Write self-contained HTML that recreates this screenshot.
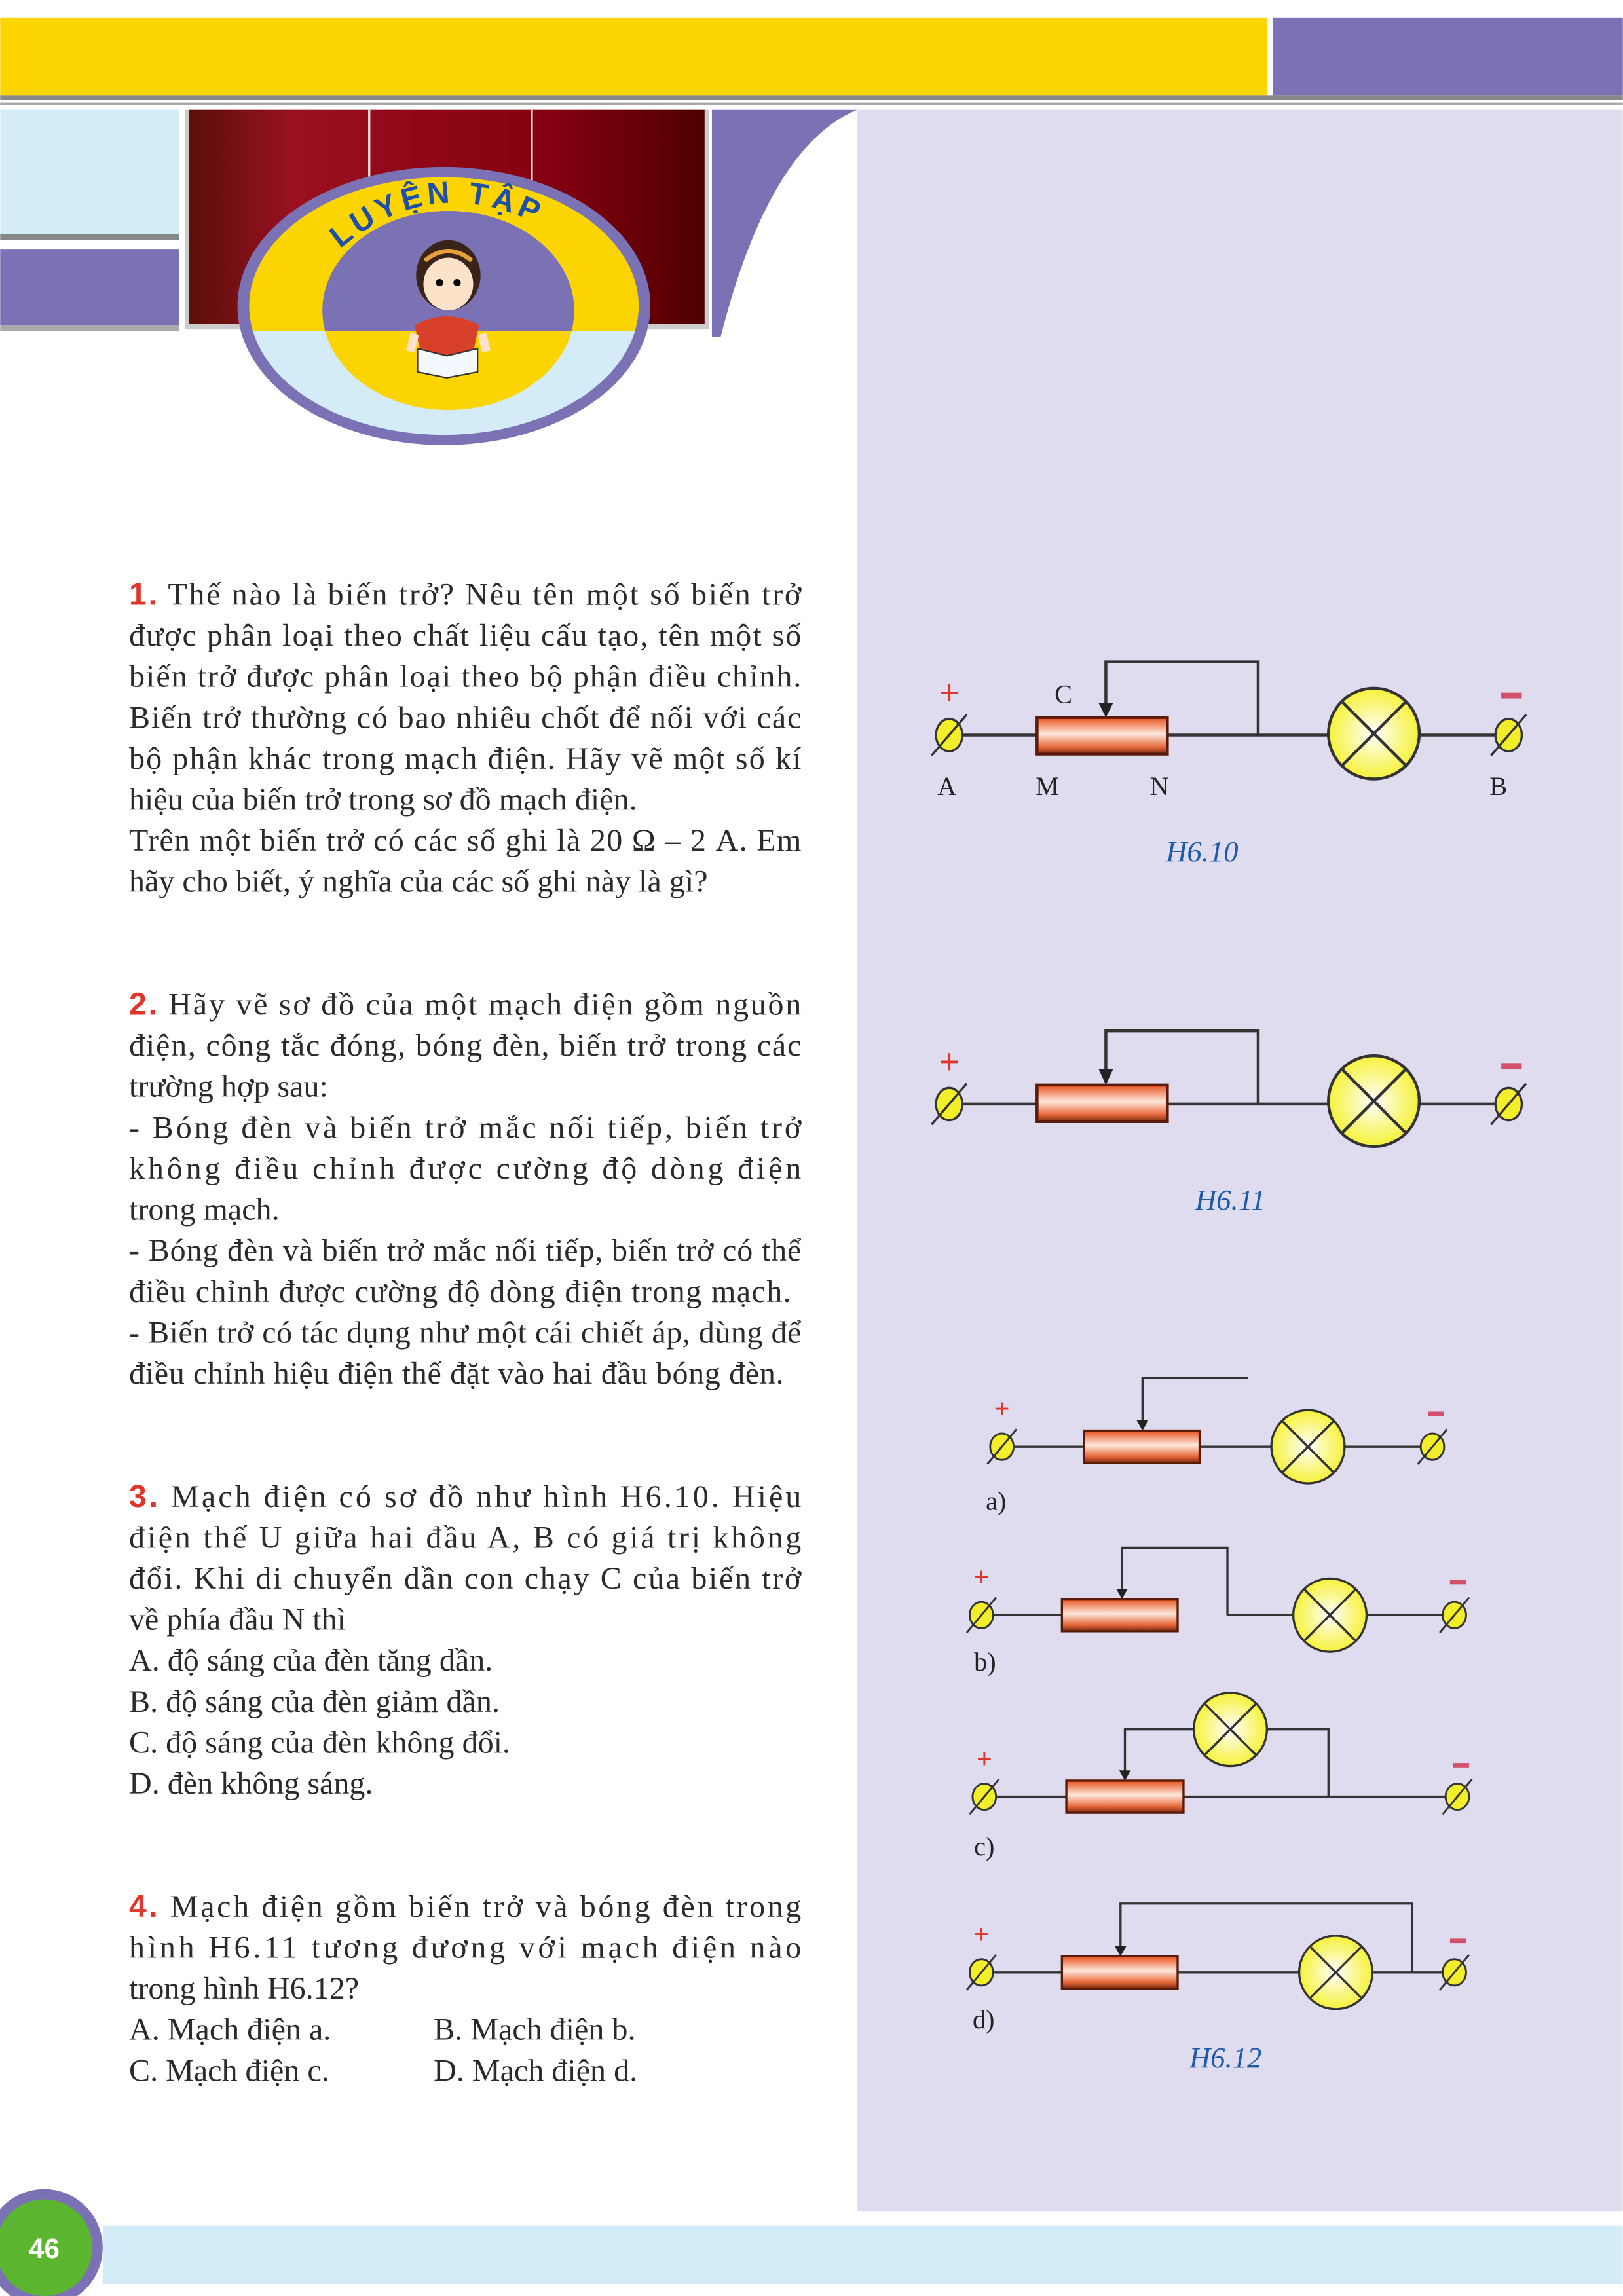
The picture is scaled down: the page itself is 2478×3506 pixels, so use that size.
<!DOCTYPE html>
<html><head><meta charset="utf-8"><style>
html,body{margin:0;padding:0;background:#fff}
svg{display:block}
.t{font-family:"Liberation Serif",serif;font-size:21.5px;fill:#2a2a2a}
.n{font-family:"Liberation Sans",sans-serif;font-weight:bold;fill:#e0352b}
.lb{font-family:"Liberation Serif",serif;font-size:18px;fill:#222}
.cap{font-family:"Liberation Serif",serif;font-style:italic;font-size:20px;fill:#1f5aa6}
.w{stroke:#333;stroke-width:2;fill:none}
</style></head><body>
<svg width="2478" height="3506" viewBox="0 0 1108 1568" xmlns="http://www.w3.org/2000/svg">
<defs>
<linearGradient id="red" x1="0" x2="1"><stop offset="0" stop-color="#5a0f0a"/><stop offset="0.2" stop-color="#9a1020"/><stop offset="0.7" stop-color="#850010"/><stop offset="1" stop-color="#4e0000"/></linearGradient>
<linearGradient id="rh" x1="0" y1="0" x2="0" y2="1"><stop offset="0" stop-color="#e8501a"/><stop offset="0.45" stop-color="#fde8dc"/><stop offset="0.8" stop-color="#e86a3a"/><stop offset="1" stop-color="#7a2a10"/></linearGradient>
<radialGradient id="lamp"><stop offset="0" stop-color="#ffffff"/><stop offset="1" stop-color="#f6f23a"/></radialGradient>
<g id="term"><ellipse cx="0" cy="0" rx="9" ry="11" fill="#f2ee2a" stroke="#333" stroke-width="1.5"/><line x1="-12" y1="14" x2="12" y2="-14" stroke="#333" stroke-width="1.5"/></g>
<g id="termS"><ellipse cx="0" cy="0" rx="8" ry="9" fill="#f2ee2a" stroke="#333" stroke-width="1.3"/><line x1="-10" y1="12" x2="10" y2="-12" stroke="#333" stroke-width="1.3"/></g>
</defs>
<rect x="0" y="12" width="865" height="53" fill="#fcd500"/>
<rect x="869" y="12" width="239" height="53" fill="#7a72b4"/>
<rect x="0" y="65" width="1108" height="3" fill="#888"/>
<rect x="0" y="70" width="1108" height="2" fill="#aaa"/>
<rect x="585" y="75" width="523" height="1435" fill="#dedcee"/>
<rect x="0" y="75" width="122" height="85" fill="#d3ecf8"/>
<rect x="0" y="160" width="122" height="4" fill="#888"/>
<rect x="0" y="170" width="122" height="52" fill="#7a72b4"/>
<rect x="0" y="222" width="122" height="4" fill="#aaa"/>
<rect x="126" y="75" width="358" height="150" fill="#ccc"/>
<rect x="129" y="75" width="352" height="146" fill="url(#red)"/>
<path d="M486,75 L585,75 Q525,100 492,230 L486,230 Z" fill="#7a72b4"/>
<line x1="252" y1="75" x2="252" y2="150" stroke="#ddd" stroke-width="1.5"/>
<line x1="363" y1="75" x2="363" y2="150" stroke="#ddd" stroke-width="1.5"/>
<clipPath id="top"><rect x="0" y="0" width="600" height="226"/></clipPath>
<clipPath id="bot"><rect x="0" y="226" width="600" height="200"/></clipPath>
<ellipse cx="303" cy="209" rx="141" ry="95" fill="#7a72b4"/>
<ellipse cx="303" cy="209" rx="133" ry="88" fill="#fcd500" clip-path="url(#top)"/>
<ellipse cx="303" cy="209" rx="133" ry="88" fill="#d3ecf8" clip-path="url(#bot)"/>
<ellipse cx="306" cy="212" rx="86" ry="68" fill="#7a72b4" clip-path="url(#top)"/>
<ellipse cx="306" cy="212" rx="86" ry="68" fill="#fcd500" clip-path="url(#bot)"/>
<path id="arc" d="M232,170 Q305,108 392,168" fill="none"/>
<text font-family="Liberation Sans,sans-serif" font-weight="bold" font-size="21" fill="#1f4fa8" letter-spacing="3"><textPath href="#arc">LUYỆN TẬP</textPath></text>
<!-- girl -->
<path d="M283,222 Q305,210 327,222 L322,245 L288,245 Z" fill="#d8402a"/>
<ellipse cx="306" cy="188" rx="22" ry="24" fill="#3a2418"/>
<ellipse cx="306" cy="194" rx="17" ry="18" fill="#fbe2c8"/>
<path d="M289,185 Q306,160 323,185 L323,178 Q306,158 289,178 Z" fill="#3a2418"/>
<path d="M290,178 Q306,165 322,178" stroke="#e8a03a" stroke-width="3" fill="none"/>
<circle cx="300" cy="193" r="2.5" fill="#000"/><circle cx="312" cy="193" r="2.5" fill="#000"/>
<path d="M283,228 L280,240 M329,228 L332,240" stroke="#fbe2c8" stroke-width="6"/>
<path d="M285,238 L305,243 L326,238 L326,254 L305,258 L285,254 Z" fill="#f4f8ff" stroke="#333" stroke-width="1"/>
<rect x="70" y="1520" width="1038" height="40" fill="#d3ecf8"/>
<circle cx="30" cy="1535" r="40" fill="#7a72b4"/>
<circle cx="30" cy="1535" r="33" fill="#5cb52e"/>
<text x="30" y="1542" text-anchor="middle" font-family="Liberation Sans,sans-serif" font-weight="bold" font-size="19" fill="#fff">46</text>
<g class="t">
<text x="88" y="413" textLength="459" lengthAdjust="spacing"><tspan class="n">1.</tspan> Thế nào là biến trở? Nêu tên một số biến trở</text>
<text x="88" y="441" textLength="459" lengthAdjust="spacing">được phân loại theo chất liệu cấu tạo, tên một số</text>
<text x="88" y="469" textLength="459" lengthAdjust="spacing">biến trở được phân loại theo bộ phận điều chỉnh.</text>
<text x="88" y="497" textLength="459" lengthAdjust="spacing">Biến trở thường có bao nhiêu chốt để nối với các</text>
<text x="88" y="525" textLength="459" lengthAdjust="spacing">bộ phận khác trong mạch điện. Hãy vẽ một số kí</text>
<text x="88" y="553">hiệu của biến trở trong sơ đồ mạch điện.</text>
<text x="88" y="581" textLength="459" lengthAdjust="spacing">Trên một biến trở có các số ghi là 20 Ω – 2 A. Em</text>
<text x="88" y="609">hãy cho biết, ý nghĩa của các số ghi này là gì?</text>
<text x="88" y="693" textLength="459" lengthAdjust="spacing"><tspan class="n">2.</tspan> Hãy vẽ sơ đồ của một mạch điện gồm nguồn</text>
<text x="88" y="721" textLength="459" lengthAdjust="spacing">điện, công tắc đóng, bóng đèn, biến trở trong các</text>
<text x="88" y="749">trường hợp sau:</text>
<text x="88" y="777" textLength="459" lengthAdjust="spacing">- Bóng đèn và biến trở mắc nối tiếp, biến trở</text>
<text x="88" y="805" textLength="459" lengthAdjust="spacing">không điều chỉnh được cường độ dòng điện</text>
<text x="88" y="833">trong mạch.</text>
<text x="88" y="861" textLength="459" lengthAdjust="spacing">- Bóng đèn và biến trở mắc nối tiếp, biến trở có thể</text>
<text x="88" y="889" textLength="452" lengthAdjust="spacing">điều chỉnh được cường độ dòng điện trong mạch.</text>
<text x="88" y="917" textLength="459" lengthAdjust="spacing">- Biến trở có tác dụng như một cái chiết áp, dùng để</text>
<text x="88" y="945" textLength="447" lengthAdjust="spacing">điều chỉnh hiệu điện thế đặt vào hai đầu bóng đèn.</text>
<text x="88" y="1029" textLength="459" lengthAdjust="spacing"><tspan class="n">3.</tspan> Mạch điện có sơ đồ như hình H6.10. Hiệu</text>
<text x="88" y="1057" textLength="459" lengthAdjust="spacing">điện thế U giữa hai đầu A, B có giá trị không</text>
<text x="88" y="1085" textLength="459" lengthAdjust="spacing">đổi. Khi di chuyển dần con chạy C của biến trở</text>
<text x="88" y="1113">về phía đầu N thì</text>
<text x="88" y="1141">A. độ sáng của đèn tăng dần.</text>
<text x="88" y="1169">B. độ sáng của đèn giảm dần.</text>
<text x="88" y="1197">C. độ sáng của đèn không đổi.</text>
<text x="88" y="1225">D. đèn không sáng.</text>
<text x="88" y="1309" textLength="459" lengthAdjust="spacing"><tspan class="n">4.</tspan> Mạch điện gồm biến trở và bóng đèn trong</text>
<text x="88" y="1337" textLength="459" lengthAdjust="spacing">hình H6.11 tương đương với mạch điện nào</text>
<text x="88" y="1365">trong hình H6.12?</text>
<text x="88" y="1393">A. Mạch điện a.</text><text x="296" y="1393">B. Mạch điện b.</text>
<text x="88" y="1421">C. Mạch điện c.</text><text x="296" y="1421">D. Mạch điện d.</text>
</g>
<g>
<path class="w" d="M648,502 H708 M797,502 H907 M969,502 H1030 M859,502 V452 H755 V484"/>
<polygon points="750,480 760,480 755,490" fill="#222"/>
<rect x="708" y="490" width="89" height="25" fill="url(#rh)" stroke="#5a1a08" stroke-width="2"/>
<circle cx="938" cy="501" r="31" fill="url(#lamp)" stroke="#333" stroke-width="2"/>
<path class="w" d="M916,479 L960,523 M960,479 L916,523"/>
<use href="#term" x="648" y="502"/><use href="#term" x="1030" y="502"/>
<text x="648" y="481" text-anchor="middle" font-family="Liberation Sans,sans-serif" font-size="24" fill="#e0352b">+</text>
<rect x="1025" y="473" width="14" height="4" fill="#d2506a"/>
<text class="lb" x="720" y="480">C</text>
<text class="lb" x="640" y="543">A</text><text class="lb" x="707" y="543">M</text><text class="lb" x="785" y="543">N</text><text class="lb" x="1017" y="543">B</text>
<text class="cap" x="796" y="588">H6.10</text>
</g>
<g>
<path class="w" d="M648,754 H708 M797,754 H907 M969,754 H1030 M859,754 V704 H755 V734"/>
<polygon points="750,730 760,730 755,741" fill="#222"/>
<rect x="708" y="741" width="89" height="25" fill="url(#rh)" stroke="#5a1a08" stroke-width="2"/>
<circle cx="938" cy="752" r="31" fill="url(#lamp)" stroke="#333" stroke-width="2"/>
<path class="w" d="M916,730 L960,774 M960,730 L916,774"/>
<use href="#term" x="648" y="754"/><use href="#term" x="1030" y="754"/>
<text x="648" y="733" text-anchor="middle" font-family="Liberation Sans,sans-serif" font-size="24" fill="#e0352b">+</text>
<rect x="1025" y="726" width="14" height="4" fill="#d2506a"/>
<text class="cap" x="816" y="826">H6.11</text>
</g>
<g>
<path class="w" style="stroke-width:1.5" d="M684,988 H740 M819,988 H868 M918,988 H978 M852,941 H780 V972"/>
<polygon points="776,970 784,970 780,977" fill="#222"/>
<rect x="740" y="977" width="79" height="22" fill="url(#rh)" stroke="#5a1a08" stroke-width="1.5"/>
<circle cx="893" cy="988" r="25" fill="url(#lamp)" stroke="#333" stroke-width="1.5"/>
<path class="w" style="stroke-width:1.5" d="M875,970 L911,1006 M911,970 L875,1006"/>
<use href="#termS" x="684" y="988"/><use href="#termS" x="978" y="988"/>
<text x="684" y="968" text-anchor="middle" font-family="Liberation Sans,sans-serif" font-size="18" fill="#e0352b">+</text>
<rect x="975" y="964" width="11" height="3" fill="#d2506a"/>
<text class="lb" x="673" y="1031">a)</text>
</g>
<g>
<path class="w" style="stroke-width:1.5" d="M670,1103 H725 M838,1103 H883 M933,1103 H993 M838,1103 V1057 H766 V1087"/>
<polygon points="762,1085 770,1085 766,1092" fill="#222"/>
<rect x="725" y="1092" width="79" height="22" fill="url(#rh)" stroke="#5a1a08" stroke-width="1.5"/>
<circle cx="908" cy="1103" r="25" fill="url(#lamp)" stroke="#333" stroke-width="1.5"/>
<path class="w" style="stroke-width:1.5" d="M890,1085 L926,1121 M926,1085 L890,1121"/>
<use href="#termS" x="670" y="1103"/><use href="#termS" x="993" y="1103"/>
<text x="670" y="1083" text-anchor="middle" font-family="Liberation Sans,sans-serif" font-size="18" fill="#e0352b">+</text>
<rect x="990" y="1079" width="11" height="3" fill="#d2506a"/>
<text class="lb" x="665" y="1141">b)</text>
</g>
<g>
<path class="w" style="stroke-width:1.5" d="M672,1227 H728 M808,1227 H995 M815,1181 H768 V1211 M865,1181 H907 V1227"/>
<polygon points="764,1209 772,1209 768,1216" fill="#222"/>
<rect x="728" y="1216" width="80" height="22" fill="url(#rh)" stroke="#5a1a08" stroke-width="1.5"/>
<circle cx="840" cy="1181" r="25" fill="url(#lamp)" stroke="#333" stroke-width="1.5"/>
<path class="w" style="stroke-width:1.5" d="M822,1163 L858,1199 M858,1163 L822,1199"/>
<use href="#termS" x="672" y="1227"/><use href="#termS" x="995" y="1227"/>
<text x="672" y="1207" text-anchor="middle" font-family="Liberation Sans,sans-serif" font-size="18" fill="#e0352b">+</text>
<rect x="992" y="1204" width="11" height="3" fill="#d2506a"/>
<text class="lb" x="665" y="1267">c)</text>
</g>
<g>
<path class="w" style="stroke-width:1.5" d="M670,1347 H725 M804,1347 H887 M937,1347 H993 M964,1347 V1300 H765 V1331"/>
<polygon points="761,1329 769,1329 765,1336" fill="#222"/>
<rect x="725" y="1336" width="79" height="22" fill="url(#rh)" stroke="#5a1a08" stroke-width="1.5"/>
<circle cx="912" cy="1347" r="25" fill="url(#lamp)" stroke="#333" stroke-width="1.5"/>
<path class="w" style="stroke-width:1.5" d="M894,1329 L930,1365 M930,1329 L894,1365"/>
<use href="#termS" x="670" y="1347"/><use href="#termS" x="993" y="1347"/>
<text x="670" y="1327" text-anchor="middle" font-family="Liberation Sans,sans-serif" font-size="18" fill="#e0352b">+</text>
<rect x="990" y="1324" width="11" height="3" fill="#d2506a"/>
<text class="lb" x="664" y="1385">d)</text>
<text class="cap" x="812" y="1412">H6.12</text>
</g>
</svg>
</body></html>
